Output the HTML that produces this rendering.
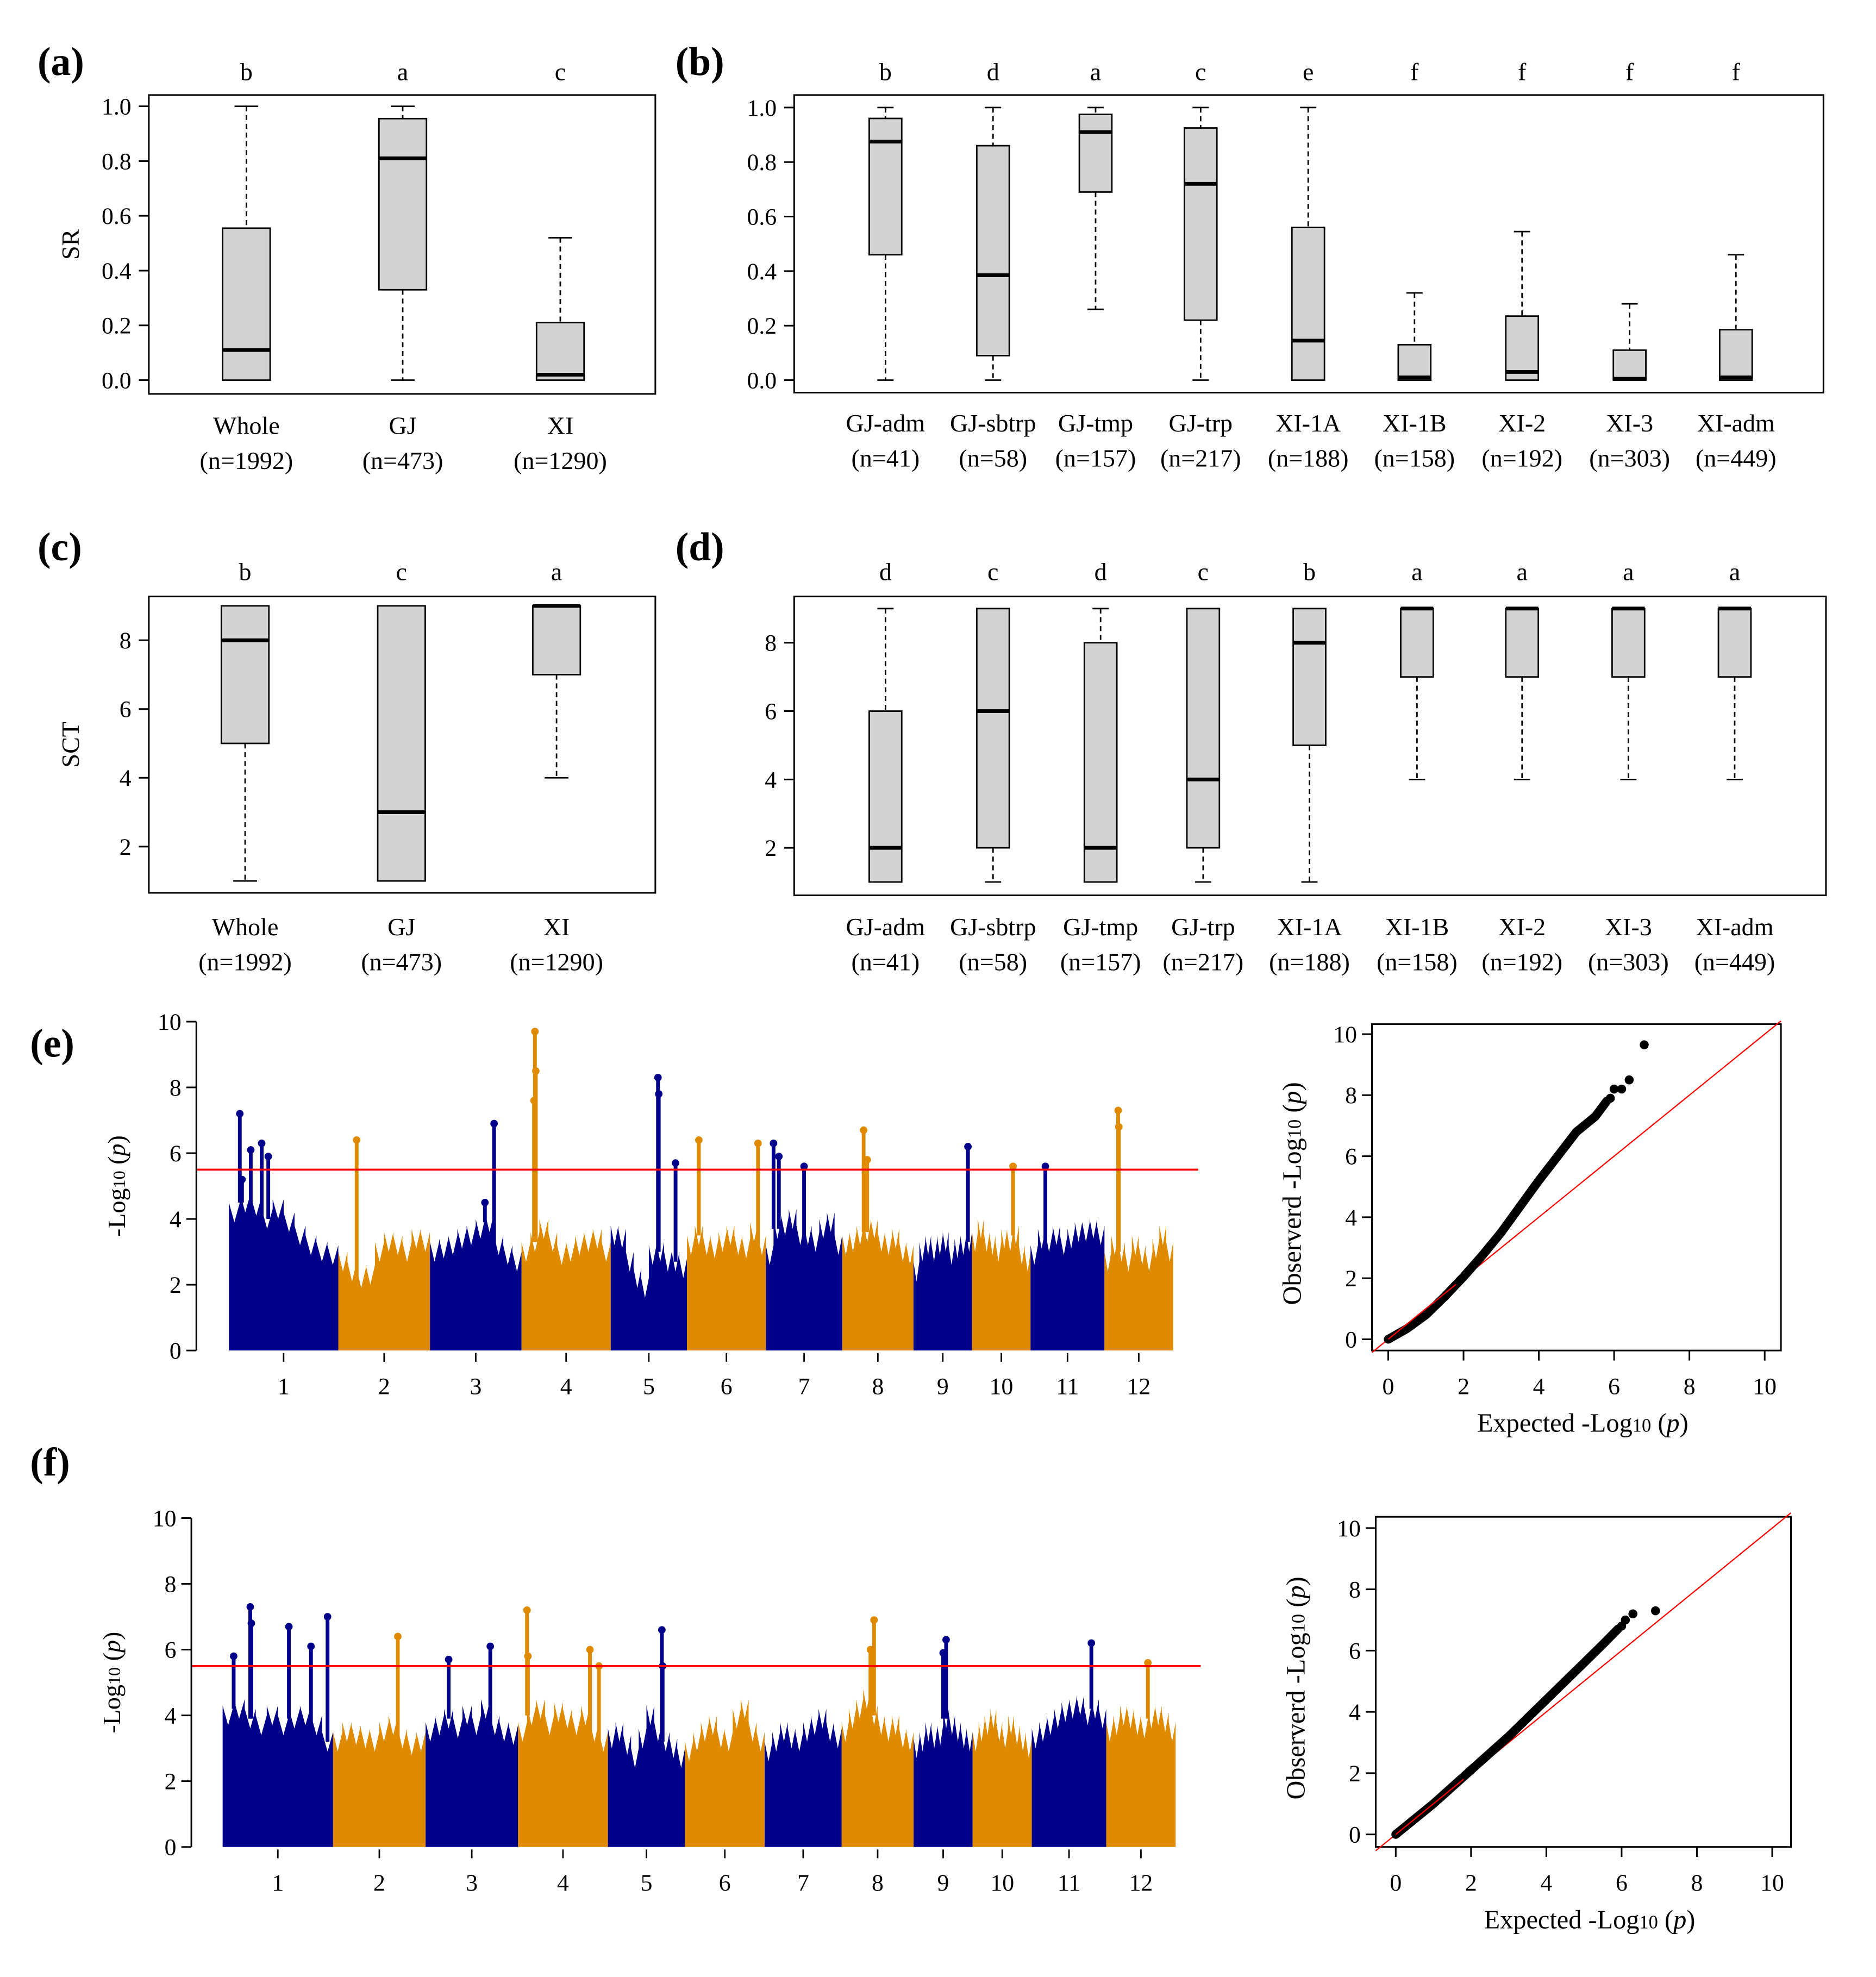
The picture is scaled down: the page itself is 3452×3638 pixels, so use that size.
<!DOCTYPE html>
<html><head><meta charset="utf-8"><style>
html,body{margin:0;padding:0;background:#fff;}
svg{display:block;font-family:"Liberation Serif",serif;}
</style></head><body>
<svg id="fig" xmlns="http://www.w3.org/2000/svg" width="3452" height="3638" viewBox="0 0 1500 1581" preserveAspectRatio="none"></svg>
<script>
// ---------- data ----------
const groupsA = ["Whole","GJ","XI"];
const countsA = [1992,473,1290];
const lettersA = ["b","a","c"];
const statsA = [[0,0,0.11,0.555,1.0],[0,0.33,0.81,0.955,1.0],[0,0,0.02,0.21,0.52]];

const groupsB = ["GJ-adm","GJ-sbtrp","GJ-tmp","GJ-trp","XI-1A","XI-1B","XI-2","XI-3","XI-adm"];
const countsB = [41,58,157,217,188,158,192,303,449];
const lettersB = ["b","d","a","c","e","f","f","f","f"];
const statsB = [[0,0.46,0.875,0.96,1.0],[0,0.09,0.385,0.86,1.0],[0.26,0.69,0.91,0.975,1.0],[0,0.22,0.72,0.925,1.0],[0,0,0.145,0.56,1.0],[0,0,0.01,0.13,0.32],[0,0,0.03,0.235,0.545],[0,0,0.005,0.11,0.28],[0,0,0.01,0.185,0.46]];

const lettersC = ["b","c","a"];
const statsC = [[1,5,8,9,9],[1,1,3,9,9],[4,7,9,9,9]];
const lettersD = ["d","c","d","c","b","a","a","a","a"];
const statsD = [[1,1,2,6,9],[1,2,6,9,9],[1,1,2,8,9],[1,2,4,9,9],[1,5,8,9,9],[4,7,9,9,9],[4,7,9,9,9],[4,7,9,9,9],[4,7,9,9,9]];

const srTicks = [0,0.2,0.4,0.6,0.8,1.0];
const srTickLabels = ["0.0","0.2","0.4","0.6","0.8","1.0"];
const sctTicks = [2,4,6,8];
const logTicks = [0,2,4,6,8,10];

const chrNames = ["1","2","3","4","5","6","7","8","9","10","11","12"];
const chrLengths = [43,36,36,35,30,31,30,28,23,23,29,27];
const threshold = 5.5;

const envE = [
[4.5,4.8,4.7,4.3,4.6,4.2,3.8,3.5,3.3,3.2],
[3.0,2.7,2.5,2.6,3.3,3.6,3.5,3.3,3.7,3.6],
[3.3,3.4,3.5,3.7,3.8,4.0,4.2,3.5,3.2,3.0],
[3.3,3.6,4.0,3.6,3.2,3.3,3.5,3.6,3.7,3.3],
[3.8,3.7,3.0,2.5,2.2,3.2,3.3,3.0,3.0,2.8],
[3.5,3.8,3.5,3.4,3.6,3.8,3.5,3.4,3.9,3.5],
[3.2,4.0,4.1,4.3,3.8,3.8,3.6,4.0,4.2,3.5],
[3.5,3.6,3.8,3.9,4.0,3.6,3.5,3.7,3.3,3.2],
[2.7,3.3,3.5,3.3,3.5,3.6,3.2,3.4,3.5,3.6],
[3.6,4.0,3.6,3.5,3.3,3.7,3.6,3.8,3.2,3.0],
[3.2,3.7,3.6,3.8,3.5,3.7,3.9,3.9,4.0,3.8],
[3.0,3.5,3.3,3.0,3.5,3.2,3.0,3.4,3.8,3.3]];
const peakChrE = [1,1,1,1,1,2,3,3,4,4,4,5,5,5,6,6,7,7,7,8,8,9,10,11,12,12];
const peakPosE = [0.1,0.2,0.3,0.36,0.12,0.2,0.7,0.6,0.15,0.16,0.14,0.62,0.63,0.85,0.15,0.9,0.1,0.17,0.5,0.3,0.35,0.93,0.7,0.2,0.2,0.21];
const peakValE = [7.2,6.1,6.3,5.9,5.2,6.4,6.9,4.5,9.7,8.5,7.6,8.3,7.8,5.7,6.4,6.3,6.3,5.9,5.6,6.7,5.8,6.2,5.6,5.6,7.3,6.8];

const envF = [
[4.3,4.5,4.2,4.0,4.3,4.0,4.2,4.3,4.0,3.5],
[3.5,3.8,3.7,3.6,3.5,3.8,4.0,3.6,3.4,3.5],
[3.8,4.0,4.2,3.9,4.3,4.0,4.5,4.0,3.8,3.7],
[3.8,4.3,4.5,4.0,4.4,4.2,4.0,4.3,3.8,3.5],
[3.6,3.8,3.4,3.0,3.6,4.3,3.8,3.5,3.3,3.0],
[3.2,3.5,3.8,4.0,3.6,3.5,4.2,4.5,3.8,3.5],
[3.2,3.5,3.8,3.6,3.5,3.8,4.0,4.2,3.8,3.6],
[3.8,4.2,4.5,4.8,4.3,4.0,3.8,4.0,3.6,3.5],
[3.3,3.5,3.8,3.6,3.7,4.2,4.0,3.8,3.6,3.5],
[3.5,3.8,4.0,4.2,3.8,3.6,4.0,3.7,3.5,3.3],
[3.6,3.8,4.0,4.2,4.4,4.5,4.6,4.3,4.5,4.2],
[3.8,4.0,4.3,4.2,4.0,3.9,4.2,4.3,4.1,3.8]];
const peakChrF = [1,1,1,1,1,1,2,3,3,4,4,4,4,5,5,8,8,9,9,11,12];
const peakPosF = [0.25,0.26,0.6,0.8,0.95,0.1,0.7,0.25,0.7,0.1,0.11,0.8,0.9,0.7,0.71,0.45,0.4,0.55,0.5,0.8,0.6];
const peakValF = [7.3,6.8,6.7,6.1,7.0,5.8,6.4,5.7,6.1,7.2,5.8,6.0,5.5,6.6,5.5,6.9,6.0,6.3,5.9,6.2,5.6];

const qqExpE = [0,0.5,1,1.5,2,2.5,3,3.5,4,4.5,5,5.5,5.8];
const qqObsE = [0,0.35,0.8,1.4,2.05,2.75,3.5,4.35,5.2,6.0,6.8,7.3,7.8];
const qqTopExpE = [5.9,6.0,6.2,6.4,6.8];
const qqTopObsE = [7.9,8.2,8.2,8.5,9.65];
const qqExpF = [0,1,2,3,4,5,5.5,5.9];
const qqObsF = [0,1.0,2.1,3.2,4.4,5.6,6.2,6.7];
const qqTopExpF = [6.0,6.1,6.3,6.9];
const qqTopObsF = [6.8,7.0,7.2,7.3];

// ---------- helpers ----------
const NS="http://www.w3.org/2000/svg";
const svg=document.getElementById('fig');
function el(tag,attrs,parent,txt){const e=document.createElementNS(NS,tag);for(const k in attrs)e.setAttribute(k,attrs[k]);if(txt!==undefined)e.textContent=txt;(parent||svg).appendChild(e);return e;}
function grp(name){const g=el('g',{});return g;}
function txt(g,x,y,s,size,anchor,name,extra){const t=el('text',Object.assign({x:x,y:y,'font-size':size,'text-anchor':anchor||'middle',fill:'#000'},extra||{}),g,s);return t;}

function boxPanel(o){
  const g=grp(o.name);
  const ys=v=>o.y0+(v-o.v0)*(o.y1-o.y0)/(o.v1-o.v0);
  const frame=el('rect',{x:o.bx0,y:o.by0,width:o.bx1-o.bx0,height:o.by1-o.by0,fill:'none',stroke:'#000','stroke-width':1.3},g);
  
  o.ticks.forEach((t,i)=>{
    const y=ys(t);
    const l=el('line',{x1:o.bx0-8,x2:o.bx0,y1:y,y2:y,stroke:'#000','stroke-width':1.3},g);
    
    txt(g,o.bx0-14,y+6.5,o.tickLabels[i],19,'end','y-tick-label');
  });
  o.stats.forEach((s,i)=>{
    const cx=o.centers[i],hw=o.bw/2;
    const [mn,q1,md,q3,mx]=s;
    if(mx>q3){
      const w=el('line',{x1:cx,x2:cx,y1:ys(mx),y2:ys(q3),stroke:'#000','stroke-width':1.2,'stroke-dasharray':'4,3'},g);
      
      const c=el('line',{x1:cx-hw/2,x2:cx+hw/2,y1:ys(mx),y2:ys(mx),stroke:'#000','stroke-width':1.2},g);
      
    }
    if(q1>mn){
      const w=el('line',{x1:cx,x2:cx,y1:ys(q1),y2:ys(mn),stroke:'#000','stroke-width':1.2,'stroke-dasharray':'4,3'},g);
      
      const c=el('line',{x1:cx-hw/2,x2:cx+hw/2,y1:ys(mn),y2:ys(mn),stroke:'#000','stroke-width':1.2},g);
      
    }
    const r=el('rect',{x:cx-hw,y:ys(q3),width:o.bw,height:Math.max(ys(q1)-ys(q3),0.5),fill:'#d3d3d3',stroke:'#000','stroke-width':1.2},g);
    
    const m=el('line',{x1:cx-hw,x2:cx+hw,y1:ys(md),y2:ys(md),stroke:'#000','stroke-width':3},g);
    
    txt(g,cx,o.letterY,o.letters[i],20,'middle','significance-letter');
    if(o.groups){
      txt(g,cx,o.labY,o.groups[i],20,'middle','group-label');
      txt(g,cx,o.labY+28,'(n='+o.counts[i]+')',20,'middle','group-count');
    }
  });
  if(o.ytitle){txt(g,0,0,o.ytitle,20,'middle','y-axis-title',{transform:'translate('+(o.bx0-56)+','+((o.by0+o.by1)/2)+') rotate(-90)'});}
  txt(g,o.px,o.py,o.panel,32,'start','panel-label',{'font-weight':'bold'});
}

boxPanel({name:'panel-a',bx0:119,bx1:524,by0:76,by1:315,v0:0,v1:1,y0:304,y1:85,ticks:srTicks,tickLabels:srTickLabels,stats:statsA,centers:[197,322,448],bw:38,letters:lettersA,letterY:64,groups:groupsA,counts:countsA,labY:347,ytitle:'SR',panel:'(a)',px:30,py:60});
boxPanel({name:'panel-b',bx0:635,bx1:1458,by0:76,by1:314,v0:0,v1:1,y0:304,y1:86,ticks:srTicks,tickLabels:srTickLabels,stats:statsB,centers:[708,794,876,960,1046,1131,1217,1303,1388],bw:26,letters:lettersB,letterY:64,groups:groupsB,counts:countsB,labY:345,panel:'(b)',px:540,py:60});
boxPanel({name:'panel-c',bx0:119,bx1:524,by0:477,by1:714,v0:2,v1:8,y0:677,y1:512,ticks:sctTicks,tickLabels:sctTicks.map(String),stats:statsC,centers:[196,321,445],bw:38,letters:lettersC,letterY:464,groups:groupsA,counts:countsA,labY:748,ytitle:'SCT',panel:'(c)',px:30,py:448});
boxPanel({name:'panel-d',bx0:635,bx1:1460,by0:477,by1:716,v0:2,v1:8,y0:678,y1:514,ticks:sctTicks,tickLabels:sctTicks.map(String),stats:statsD,centers:[708,794,880,962,1047,1133,1217,1302,1387],bw:26,letters:lettersD,letterY:464,groups:groupsB,counts:countsB,labY:748,panel:'(d)',px:540,py:448});

// ---------- manhattan ----------
const NAVY='#00008B',ORANGE='#E08A00';
function manhattan(o){
  const g=grp(o.name);
  const total=chrLengths.reduce((a,b)=>a+b,0);
  const starts=[];let acc=0;chrLengths.forEach(l=>{starts.push(acc);acc+=l;});
  const xs=mb=>o.x0+mb*(o.x1-o.x0)/total;
  const ys=v=>o.y0+v*(o.y10-o.y0)/10;
  chrLengths.forEach((len,c)=>{
    const col=c%2===0?NAVY:ORANGE;
    const env=o.env[c];const n=env.length;
    let pts=[[xs(starts[c]),ys(0)]];
    env.forEach((v,i)=>{
      const a=xs(starts[c]+len*i/n),b=xs(starts[c]+len*(i+1)/n);
      pts.push([a,ys(v)]);pts.push([(a+b)/2,ys(v-0.6)]);pts.push([b,ys(v)]);
    });
    pts.push([xs(starts[c]+len),ys(0)]);
    const p=el('polygon',{points:pts.map(q=>q[0].toFixed(1)+','+q[1].toFixed(1)).join(' '),fill:col},g);
    
    const cx=xs(starts[c]+len/2);
    const tk=el('line',{x1:cx,x2:cx,y1:ys(0)+2,y2:ys(0)+9,stroke:'#000','stroke-width':1.2},g);
    
    txt(g,cx,ys(0)+35,chrNames[c],19,'middle','chromosome-label');
  });
  o.pc.forEach((c,i)=>{
    const col=(c-1)%2===0?NAVY:ORANGE;
    const frac=o.pp[i];
    const base=o.env[c-1][Math.min(9,Math.floor(frac*10))];
    const x=xs(starts[c-1]+chrLengths[c-1]*frac);
    const s=el('line',{x1:x,x2:x,y1:ys(base-0.3),y2:ys(o.pv[i]),stroke:col,'stroke-width':3},g);
    
    const d=el('circle',{cx:x,cy:ys(o.pv[i]),r:3,fill:col},g);
    
  });
  const th=el('line',{x1:o.ax,x2:o.x1+20,y1:ys(threshold),y2:ys(threshold),stroke:'#ff0000','stroke-width':1.6},g);
  
  const ax=el('line',{x1:o.ax,x2:o.ax,y1:ys(0),y2:ys(10),stroke:'#000','stroke-width':1.3},g);
  
  logTicks.forEach(t=>{
    const l=el('line',{x1:o.ax-8,x2:o.ax,y1:ys(t),y2:ys(t),stroke:'#000','stroke-width':1.3},g);
    
    txt(g,o.ax-12,ys(t)+6.5,String(t),19,'end','y-tick-label');
  });
  const yt=txt(g,0,0,'',20,'middle','y-axis-title',{transform:'translate('+(o.ax-57)+','+((ys(0)+ys(10))/2)+') rotate(-90)'});
  yt.innerHTML='-Log<tspan font-size="14">10</tspan> (<tspan font-style="italic">p</tspan>)';
  txt(g,o.px,o.py,o.panel,32,'start','panel-label',{'font-weight':'bold'});
}
manhattan({name:'panel-e-manhattan',x0:183,x1:938,ax:157,y0:1080,y10:817,env:envE,pc:peakChrE,pp:peakPosE,pv:peakValE,panel:'(e)',px:24,py:845});
manhattan({name:'panel-f-manhattan',x0:178,x1:940,ax:153,y0:1477,y10:1214,env:envF,pc:peakChrF,pp:peakPosF,pv:peakValF,panel:'(f)',px:24,py:1180});

// ---------- QQ ----------
function qq(o){
  const g=grp(o.name);
  const xs=v=>o.xa+v*(o.xb-o.xa)/10;
  const ys=v=>o.ya+v*(o.yb-o.ya)/10;
  const fr=el('rect',{x:o.bx0,y:o.by0,width:o.bx1-o.bx0,height:o.by1-o.by0,fill:'none',stroke:'#000','stroke-width':1.3},g);
  
  const vmin=(o.bx0-o.xa)/(o.xb-o.xa)*10, vmax=(o.bx1-o.xa)/(o.xb-o.xa)*10;
  const dg=el('line',{x1:xs(vmin),y1:ys(vmin),x2:xs(vmax),y2:ys(vmax),stroke:'#ff0000','stroke-width':1},g);
  
  const pl=el('polyline',{points:o.ex.map((e,i)=>xs(e).toFixed(1)+','+ys(o.ob[i]).toFixed(1)).join(' '),fill:'none',stroke:'#000','stroke-width':7,'stroke-linejoin':'round','stroke-linecap':'round'},g);
  
  const dg2=el('line',{x1:xs(0),y1:ys(0),x2:xs(1.8),y2:ys(1.8),stroke:'#ff0000','stroke-width':1},g);
  
  o.tex.forEach((e,i)=>{
    const c=el('circle',{cx:xs(e),cy:ys(o.tob[i]),r:3.6,fill:'#000'},g);
    
  });
  logTicks.forEach(t=>{
    const l=el('line',{x1:o.bx0-8,x2:o.bx0,y1:ys(t),y2:ys(t),stroke:'#000','stroke-width':1.3},g);
    
    txt(g,o.bx0-12,ys(t)+6.5,String(t),19,'end','y-tick-label');
    const m=el('line',{x1:xs(t),x2:xs(t),y1:o.by1,y2:o.by1+8,stroke:'#000','stroke-width':1.3},g);
    
    txt(g,xs(t),o.by1+35,String(t),19,'middle','x-tick-label');
  });
  const xt=txt(g,(o.bx0+o.bx1)/2+5,o.by1+65,'',21,'middle','x-axis-title');
  xt.innerHTML='Expected -Log<tspan font-size="15">10</tspan> (<tspan font-style="italic">p</tspan>)';
  const yt=txt(g,0,0,'',21,'middle','y-axis-title',{transform:'translate('+(o.bx0-57)+','+((o.by0+o.by1)/2+5)+') rotate(-90)'});
  yt.innerHTML='Observerd -Log<tspan font-size="15">10</tspan> (<tspan font-style="italic">p</tspan>)';
}
qq({name:'panel-e-qq',bx0:1097,bx1:1424,by0:819,by1:1080,xa:1110,xb:1411,ya:1071,yb:827,ex:qqExpE,ob:qqObsE,tex:qqTopExpE,tob:qqTopObsE});
qq({name:'panel-f-qq',bx0:1100,bx1:1432,by0:1213,by1:1477,xa:1116,xb:1417,ya:1467,yb:1222,ex:qqExpF,ob:qqObsF,tex:qqTopExpF,tob:qqTopObsF});
</script>
</body></html>
